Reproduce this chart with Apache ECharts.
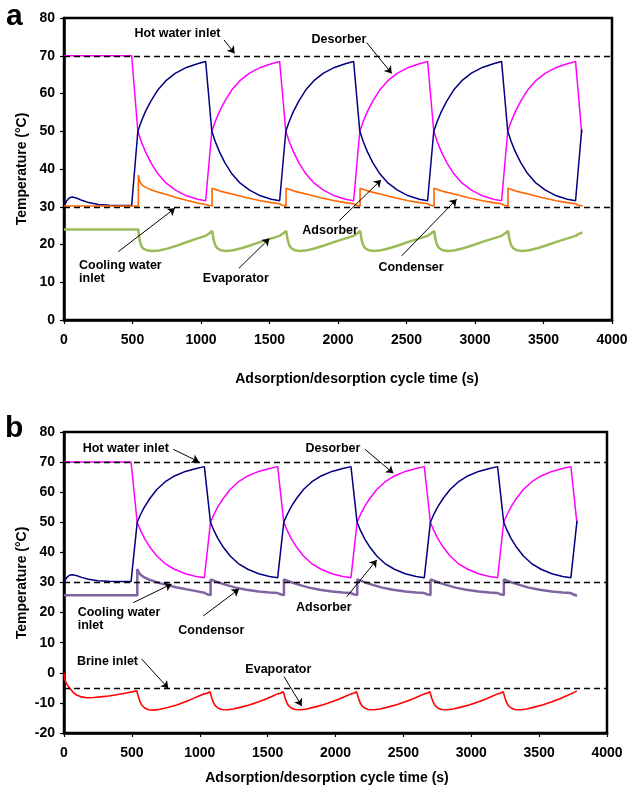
<!DOCTYPE html>
<html><head><meta charset="utf-8">
<script src="https://cdn.jsdelivr.net/npm/echarts@6/dist/echarts.min.js"></script>
<style>html,body{margin:0;padding:0;background:#fff}#c{width:627px;height:787px}</style>
</head><body><div id="c"></div>
<script>
// ---------- DATA ----------
const xTicks = [0, 500, 1000, 1500, 2000, 2500, 3000, 3500, 4000];
const yTicksA = [0, 10, 20, 30, 40, 50, 60, 70, 80];
const yTicksB = [-20, -10, 0, 10, 20, 30, 40, 50, 60, 70, 80];

// inlet reference temperatures (dashed lines)
const inletA = [70, 30];          // hot water, cooling water
const inletB = [70, 30, -5];      // hot water, cooling water, brine

// adsorber / desorber bed temperatures (shared time base, both panels)
const bedTime = [0,20,40,60,90,130,180,250,330,420,494,
 539,564,594,634,684,744,814,894,974,1034,
 1079,1104,1134,1174,1224,1284,1354,1434,1514,1574,
 1619,1644,1674,1714,1764,1824,1894,1974,2054,2114,
 2159,2184,2214,2254,2304,2364,2434,2514,2594,2654,
 2699,2724,2754,2794,2844,2904,2974,3054,3134,3194,
 3239,3264,3294,3334,3384,3444,3514,3594,3674,3734,
 3779];
const adsorberTemp = [30.0,31.6,32.4,32.6,32.3,31.7,31.1,30.6,30.4,30.3,30.3,
 50.0,52.6,55.2,58.0,60.9,63.4,65.4,66.9,67.9,68.5,
 50.0,47.3,44.6,41.7,38.8,36.3,34.4,32.9,32.0,31.6,
 50.0,52.6,55.2,58.0,60.9,63.4,65.4,66.9,67.9,68.5,
 50.0,47.3,44.6,41.7,38.8,36.3,34.4,32.9,32.0,31.6,
 50.0,52.6,55.2,58.0,60.9,63.4,65.4,66.9,67.9,68.5,
 50.0,47.3,44.6,41.7,38.8,36.3,34.4,32.9,32.0,31.6,
 50.5];
const desorberTemp = [70,70,70,70,70,70,70,70,70,70,70,
 50.0,47.3,44.6,41.7,38.8,36.3,34.4,32.9,32.0,31.6,
 50.0,52.6,55.2,58.0,60.9,63.4,65.4,66.9,67.9,68.5,
 50.0,47.3,44.6,41.7,38.8,36.3,34.4,32.9,32.0,31.6,
 50.0,52.6,55.2,58.0,60.9,63.4,65.4,66.9,67.9,68.5,
 50.0,47.3,44.6,41.7,38.8,36.3,34.4,32.9,32.0,31.6,
 50.0,52.6,55.2,58.0,60.9,63.4,65.4,66.9,67.9,68.5,
 49.5];

// panel a: condenser
const condTimeA = [0,543,543,549,559,574,604,644,694,754,824,894,974,1034,
 1054,1081,1081,1094,1154,1234,1334,1434,1514,1574,
 1594,1621,1621,1634,1694,1774,1874,1974,2054,2114,
 2134,2161,2161,2174,2234,2314,2414,2514,2594,2654,
 2674,2701,2701,2714,2774,2854,2954,3054,3134,3194,
 3214,3241,3241,3254,3314,3394,3494,3594,3674,3734,
 3754,3786];
const condTempA = [30.2,30.2,38.4,37.2,36.3,35.6,35.0,34.4,33.8,33.2,32.4,31.7,31.0,30.6,
 30.4,30.2,34.9,34.8,34.0,33.3,32.4,31.6,31.1,30.8,
 30.4,30.2,34.9,34.8,34.0,33.3,32.4,31.6,31.1,30.8,
 30.4,30.2,34.9,34.8,34.0,33.3,32.4,31.6,31.1,30.8,
 30.4,30.2,34.9,34.8,34.0,33.3,32.4,31.6,31.1,30.8,
 30.4,30.2,34.9,34.8,34.0,33.3,32.4,31.6,31.1,30.8,
 30.4,30.2];

// panel a: evaporator
const evapTimeA = [0,543,547,554,564,579,604,644,694,754,824,894,964,1034,
 1059,1082,1087,1094,1104,1119,1144,1184,1234,1294,1364,1434,1504,1574,
 1599,1622,1627,1634,1644,1659,1684,1724,1774,1834,1904,1974,2044,2114,
 2139,2162,2167,2174,2184,2199,2224,2264,2314,2374,2444,2514,2584,2654,
 2679,2702,2707,2714,2724,2739,2764,2804,2854,2914,2984,3054,3124,3194,
 3219,3242,3247,3254,3264,3279,3304,3344,3394,3454,3524,3594,3664,3734,
 3759,3784];
const evapTempA = [24.0,24.0,22.5,20.8,19.6,18.9,18.5,18.3,18.4,18.9,19.7,20.6,21.5,22.3,
 22.9,23.6,22.4,21.0,19.8,19.0,18.5,18.3,18.5,19.0,19.8,20.7,21.5,22.3,
 22.9,23.6,22.4,21.0,19.8,19.0,18.5,18.3,18.5,19.0,19.8,20.7,21.5,22.3,
 22.9,23.6,22.4,21.0,19.8,19.0,18.5,18.3,18.5,19.0,19.8,20.7,21.5,22.3,
 22.9,23.6,22.4,21.0,19.8,19.0,18.5,18.3,18.5,19.0,19.8,20.7,21.5,22.3,
 22.9,23.6,22.4,21.0,19.8,19.0,18.5,18.3,18.5,19.0,19.8,20.7,21.5,22.3,
 22.8,23.2];

// panel b: condensor
const condTimeB = [0,540,540,549,564,584,624,704,824,954,1034,
 1054,1080,1080,1094,1134,1194,1264,1344,1434,1514,1574,
 1594,1620,1620,1634,1674,1734,1804,1884,1974,2054,2114,
 2134,2160,2160,2174,2214,2274,2344,2424,2514,2594,2654,
 2674,2700,2700,2714,2754,2814,2884,2964,3054,3134,3194,
 3214,3240,3240,3254,3294,3354,3424,3504,3594,3674,3734,
 3754,3779];
const condTempB = [25.8,25.8,34.5,33.5,32.6,31.9,31.0,29.8,28.4,27.3,26.6,
 26.1,25.8,31.0,30.7,30.1,29.2,28.3,27.6,27.0,26.7,26.5,
 26.1,25.8,31.0,30.7,30.1,29.2,28.3,27.6,27.0,26.7,26.5,
 26.1,25.8,31.0,30.7,30.1,29.2,28.3,27.6,27.0,26.7,26.5,
 26.1,25.8,31.0,30.7,30.1,29.2,28.3,27.6,27.0,26.7,26.5,
 26.1,25.8,31.0,30.7,30.1,29.2,28.3,27.6,27.0,26.7,26.5,
 26.0,25.6];

// panel b: evaporator
const evapTimeB = [0,7,20,44,70,93,130,167,220,265,330,388,460,535,
 540,548,559,572,594,621,664,707,764,830,894,953,994,1034,
 1054,1075,1080,1088,1099,1112,1134,1161,1204,1247,1304,1370,1434,1493,1534,1574,
 1594,1615,1620,1628,1639,1652,1674,1701,1744,1787,1844,1910,1974,2033,2074,2114,
 2134,2155,2160,2168,2179,2192,2214,2241,2284,2327,2384,2450,2514,2573,2614,2654,
 2674,2695,2700,2708,2719,2732,2754,2781,2824,2867,2924,2990,3054,3113,3154,3194,
 3214,3235,3240,3248,3259,3272,3294,3321,3364,3407,3464,3530,3594,3653,3694,3734,
 3754,3778];
const evapTempB = [0.0,-2.4,-3.8,-5.2,-6.6,-7.4,-8.0,-8.3,-8.2,-8.0,-7.7,-7.3,-6.7,-6.0,
 -6.6,-7.9,-9.4,-10.7,-11.7,-12.3,-12.4,-12.1,-11.5,-10.7,-9.6,-8.5,-7.7,-7.0,
 -6.8,-6.3,-7.0,-8.3,-9.7,-10.8,-11.7,-12.2,-12.3,-12.0,-11.4,-10.6,-9.6,-8.6,-7.8,-7.0,
 -6.8,-6.3,-7.0,-8.3,-9.7,-10.8,-11.7,-12.2,-12.3,-12.0,-11.4,-10.6,-9.6,-8.6,-7.8,-7.0,
 -6.8,-6.3,-7.0,-8.3,-9.7,-10.8,-11.7,-12.2,-12.3,-12.0,-11.4,-10.6,-9.6,-8.6,-7.8,-7.0,
 -6.8,-6.3,-7.0,-8.3,-9.7,-10.8,-11.7,-12.2,-12.3,-12.0,-11.4,-10.6,-9.6,-8.6,-7.8,-7.0,
 -6.8,-6.3,-7.0,-8.3,-9.7,-10.8,-11.7,-12.2,-12.3,-12.0,-11.4,-10.6,-9.6,-8.6,-7.8,-7.0,
 -6.6,-6.0];

// ---------- ANNOTATIONS (text + arrow, in data coordinates) ----------
const notesA = [
 {text:'Hot water inlet', at:[828,75.8], from:[1168,74.2], to:[1245,70.6]},
 {text:'Desorber', at:[2007,74.4], from:[2209,73.5], to:[2392,65.3]},
 {text:'Adsorber', at:[1942,23.6], from:[2009,26.3], to:[2314,37.1]},
 {text:'Condenser', at:[2533,13.9], from:[2465,17.0], to:[2866,32.0]},
 {text:'Cooling water\ninlet', at:[110,12.6], from:[396,18.1], to:[810,29.6], align:'left'},
 {text:'Evaporator', at:[1254,11.05], from:[1277,13.7], to:[1499,21.6]}
];
const notesB = [
 {text:'Hot water inlet', at:[455,74.6], from:[805,74.25], to:[994,70.1]},
 {text:'Desorber', at:[1981,74.35], from:[2217,74.25], to:[2426,66.3]},
 {text:'Adsorber', at:[1914,21.6], from:[2083,25.3], to:[2304,37.5]},
 {text:'Condensor', at:[1085,14.2], from:[1026,18.9], to:[1289,27.8]},
 {text:'Cooling water\ninlet', at:[101,17.8], from:[510,23.3], to:[793,29.5], align:'left'},
 {text:'Brine inlet', at:[320,3.7], from:[572,4.6], to:[768,-5.15]},
 {text:'Evaporator', at:[1579,1.2], from:[1621,-1.3], to:[1751,-11.0]}
];

// ---------- CHART ----------
const FONT = '"Liberation Sans", Arial, Helvetica, sans-serif';
const zip = (t, v) => t.map((x, i) => [x, v[i]]);

function xAxisFor(gi) {
  return {
    type:'value', gridIndex:gi, min:xTicks[0], max:xTicks[xTicks.length-1], interval:xTicks[1]-xTicks[0],
    axisLine:{show:true, onZero:false, lineStyle:{color:'#000', width:2.5}},
    axisTick:{show:true, inside:false, length:4, lineStyle:{color:'#000', width:1.2}},
    axisLabel:{color:'#000', fontFamily:FONT, fontWeight:'bold', fontSize:14, margin:13,
               formatter: v => String(v)},
    splitLine:{show:false}
  };
}
function yAxisFor(gi, ticks) {
  return {
    type:'value', gridIndex:gi, min:ticks[0], max:ticks[ticks.length-1], interval:ticks[1]-ticks[0],
    axisLine:{show:true, onZero:false, lineStyle:{color:'#000', width:2.5}},
    axisTick:{show:true, inside:false, length:4, lineStyle:{color:'#000', width:1.2}},
    axisLabel:{color:'#000', fontFamily:FONT, fontWeight:'bold', fontSize:14, margin:9,
               formatter: v => String(v)},
    splitLine:{show:false}
  };
}
function lineSeries(gi, name, t, v, color, width) {
  return {
    type:'line', name, xAxisIndex:gi, yAxisIndex:gi, data:zip(t, v),
    showSymbol:false, symbol:'none', smooth:false, clip:true,
    lineStyle:{color, width}, itemStyle:{color}, silent:true, animation:false
  };
}
function refSeries(gi, levels) {
  return {
    type:'line', name:'ref'+gi, xAxisIndex:gi, yAxisIndex:gi, data:[], silent:true, animation:false,
    markLine:{
      silent:true, symbol:['none','none'], animation:false,
      label:{show:false},
      lineStyle:{color:'#000', width:1.3, type:[6,4]},
      data: levels.map(l => ({yAxis:l}))
    }
  };
}
function noteSeries(gi, notes) {
  return {
    type:'line', name:'notes'+gi, xAxisIndex:gi, yAxisIndex:gi, data:[], silent:true, animation:false,
    markLine:{
      silent:true, animation:false, symbol:['none','arrow'], symbolSize:7,
      label:{show:false},
      lineStyle:{color:'#000', width:1, type:'solid'},
      data: notes.map(n => [{coord:n.from}, {coord:n.to}])
    },
    markPoint:{
      silent:true, animation:false, symbol:'circle', symbolSize:1,
      itemStyle:{color:'rgba(0,0,0,0)'},
      label:{show:true, position:'inside', formatter:'{b}', color:'#000', fontFamily:FONT,
             fontWeight:'bold', fontSize:12.5, lineHeight:13},
      data: notes.map(n => ({coord:n.at, name:n.text, label:{align:n.align || 'center'}}))
    }
  };
}

const chart = echarts.init(document.getElementById('c'), null, {renderer:'canvas'});
chart.setOption({
  animation:false,
  backgroundColor:'#fff',
  grid:[
    {left:64, top:18, width:548, height:302, containLabel:false, outerBoundsMode:'none',
     show:true, borderColor:'#000', borderWidth:2.5, backgroundColor:'transparent'},
    {left:64, top:432, width:543, height:301, containLabel:false, outerBoundsMode:'none',
     show:true, borderColor:'#000', borderWidth:2.5, backgroundColor:'transparent'}
  ],
  xAxis:[xAxisFor(0), xAxisFor(1)],
  yAxis:[yAxisFor(0, yTicksA), yAxisFor(1, yTicksB)],
  series:[
    refSeries(0, inletA),
    lineSeries(0, 'Desorber', bedTime, desorberTemp, '#FF00FF', 1.5),
    lineSeries(0, 'Adsorber', bedTime, adsorberTemp, '#000080', 1.5),
    lineSeries(0, 'Condenser', condTimeA, condTempA, '#FF6600', 1.6),
    lineSeries(0, 'Evaporator', evapTimeA, evapTempA, '#9BBB59', 2.5),
    noteSeries(0, notesA),
    refSeries(1, inletB),
    lineSeries(1, 'Desorber', bedTime, desorberTemp, '#FF00FF', 1.5),
    lineSeries(1, 'Adsorber', bedTime, adsorberTemp, '#000080', 1.5),
    lineSeries(1, 'Condensor', condTimeB, condTempB, '#8064A2', 2.5),
    lineSeries(1, 'Evaporator', evapTimeB, evapTempB, '#FF0000', 1.6),
    noteSeries(1, notesB)
  ],
  graphic:[
    {type:'text', left:6, top:2, style:{text:'a', font:'bold 30px '+FONT, fill:'#000'}},
    {type:'text', left:5, top:414, style:{text:'b', font:'bold 30px '+FONT, fill:'#000'}},
    {type:'text', x:357, y:379, style:{text:'Adsorption/desorption cycle time (s)', font:'bold 14px '+FONT, fill:'#000', align:'center', verticalAlign:'middle'}},
    {type:'text', x:327, y:778, style:{text:'Adsorption/desorption cycle time (s)', font:'bold 14px '+FONT, fill:'#000', align:'center', verticalAlign:'middle'}},
    {type:'text', x:22, y:169, rotation:Math.PI/2, style:{text:'Temperature (°C)', font:'bold 14px '+FONT, fill:'#000', align:'center', verticalAlign:'middle'}},
    {type:'text', x:22, y:583, rotation:Math.PI/2, style:{text:'Temperature (°C)', font:'bold 14px '+FONT, fill:'#000', align:'center', verticalAlign:'middle'}}
  ]
});
</script>
</body></html>
